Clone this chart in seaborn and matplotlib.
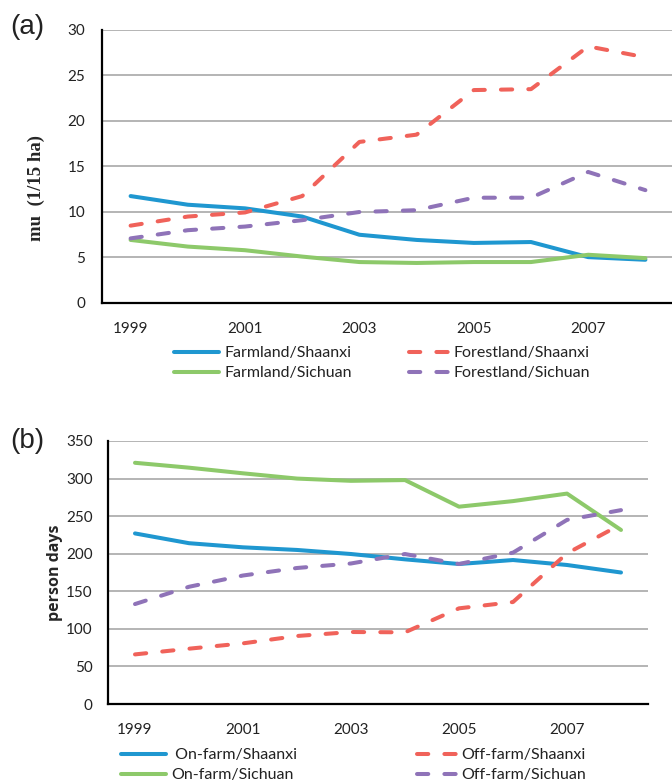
import matplotlib
matplotlib.use("Agg")
import matplotlib.pyplot as plt
import seaborn as sns
import pandas as pd
from matplotlib.lines import Line2D

years = [1999, 2000, 2001, 2002, 2003, 2004, 2005, 2006, 2007, 2008]
year_ticks = [1999, 2001, 2003, 2005, 2007]

# Panel (a): land area, mu
farmland_shaanxi = [11.75, 10.8, 10.4, 9.5, 7.5, 6.93, 6.6, 6.7, 5.04, 4.75]
farmland_sichuan = [6.93, 6.2, 5.8, 5.1, 4.5, 4.4, 4.5, 4.5, 5.3, 4.93]
forestland_shaanxi = [8.5, 9.5, 9.95, 11.75, 17.7, 18.5, 23.4, 23.5, 28.2, 27.0]
forestland_sichuan = [7.1, 8.0, 8.4, 9.1, 10.0, 10.2, 11.57, 11.57, 14.4, 12.4]

# Panel (b): labour, person days
onfarm_shaanxi = [227, 214, 208.5, 205, 199.6, 192.5, 186.3, 191.6, 185, 175]
onfarm_sichuan = [321, 314.5, 307, 300, 297, 298, 262.6, 270, 280, 231.6]
offfarm_shaanxi = [66, 73.6, 80.7, 90.5, 95.8, 95.4, 127.3, 135.7, 200.5, 239]
offfarm_sichuan = [133, 156, 171, 181, 187, 199.6, 186.3, 201.4, 245, 258]

labels_a = ["Farmland/Shaanxi", "Farmland/Sichuan", "Forestland/Shaanxi", "Forestland/Sichuan"]
labels_b = [" On-farm/Shaanxi", "On-farm/Sichuan", "Off-farm/Shaanxi", "Off-farm/Sichuan"]

BLUE = "#1f97d0"
GREEN = "#8dc96a"
RED = "#f0625a"
PURPLE = "#8f73b8"
colors = [BLUE, GREEN, RED, PURPLE]
solid = [True, True, False, False]

sns.set_style("white")
plt.rcParams["font.family"] = ["Lato", "DejaVu Sans"]

fig = plt.figure(figsize=(6.72, 7.83), dpi=100)
ax_a = fig.add_axes([102 / 672, 1 - 303 / 783, 572 / 672, 273 / 783])
ax_b = fig.add_axes([108 / 672, 1 - 704 / 783, 540 / 672, 263 / 783])

LW = 2.9
DASH = (2.8, 4.0)
TXT = "#222222"


def draw(ax, series, labels):
    handles = []
    for vals, lab, col, sol in zip(series, labels, colors, solid):
        df = pd.DataFrame({"year": years, "value": vals})
        sns.lineplot(data=df, x="year", y="value", ax=ax, color=col, lw=LW,
                     solid_capstyle="round", dash_capstyle="round")
        ln = ax.lines[-1]
        if not sol:
            ln.set_dashes(DASH)
        handles.append(Line2D([], [], color=col, lw=LW,
                              linestyle="-" if sol else (0, DASH),
                              solid_capstyle="round", dash_capstyle="round",
                              label=lab))
    ax.set_xlim(1998.5, 2008.5)
    ax.set_xticks(year_ticks)
    ax.set_xticklabels([str(y) for y in year_ticks])
    ax.grid(axis="y", color="#b4b4b4", lw=1.4)
    ax.set_axisbelow(True)
    for s in ["top", "right"]:
        ax.spines[s].set_visible(False)
    for s in ["left", "bottom"]:
        ax.spines[s].set_color("black")
        ax.spines[s].set_linewidth(1.6)
    ax.tick_params(axis="both", length=0, labelsize=11, colors=TXT)
    ax.tick_params(axis="x", pad=14)
    ax.set_xlabel("")
    return handles


h_a = draw(ax_a, [farmland_shaanxi, farmland_sichuan, forestland_shaanxi, forestland_sichuan], labels_a)
ax_a.set_ylim(0, 30)
ax_a.set_yticks(range(0, 31, 5))
ax_a.tick_params(axis="y", pad=12)
ax_a.set_ylabel("mu  (1/15 ha)", family="Liberation Serif", fontweight="bold", fontsize=13.5)
ax_a.yaxis.set_label_coords(-57 / 572, (303 - 188) / 273)

h_b = draw(ax_b, [onfarm_shaanxi, onfarm_sichuan, offfarm_shaanxi, offfarm_sichuan], labels_b)
ax_b.set_ylim(0, 350)
ax_b.set_yticks(range(0, 351, 50))
ax_b.tick_params(axis="y", pad=11)
ax_b.set_ylabel("person days", family="Open Sans", fontweight="bold", fontsize=11.5, labelpad=2)

fig.text(27 / 672, 1 - 27 / 783, "(a)", fontsize=20, family="Liberation Sans", ha="center", va="center", color=TXT)
fig.text(27 / 672, 1 - 441 / 783, "(b)", fontsize=20, family="Liberation Sans", ha="center", va="center", color=TXT)


def leg(handles, x, ytop, hl):
    l = fig.legend(handles=handles, loc="upper left", bbox_to_anchor=(x / 672, 1 - ytop / 783),
                   frameon=False, fontsize=11.5, handlelength=hl, handletextpad=0.35,
                   labelspacing=0.38, borderpad=0, borderaxespad=0)
    for t in l.get_texts():
        t.set_color(TXT)
    return l


leg(h_a[:2], 174, 346, 2.8)
leg(h_a[2:], 409, 346, 2.45)
leg(h_b[:2], 121, 748, 2.8)
leg(h_b[2:], 417, 748, 2.45)

fig.savefig("out.png", dpi=100)
